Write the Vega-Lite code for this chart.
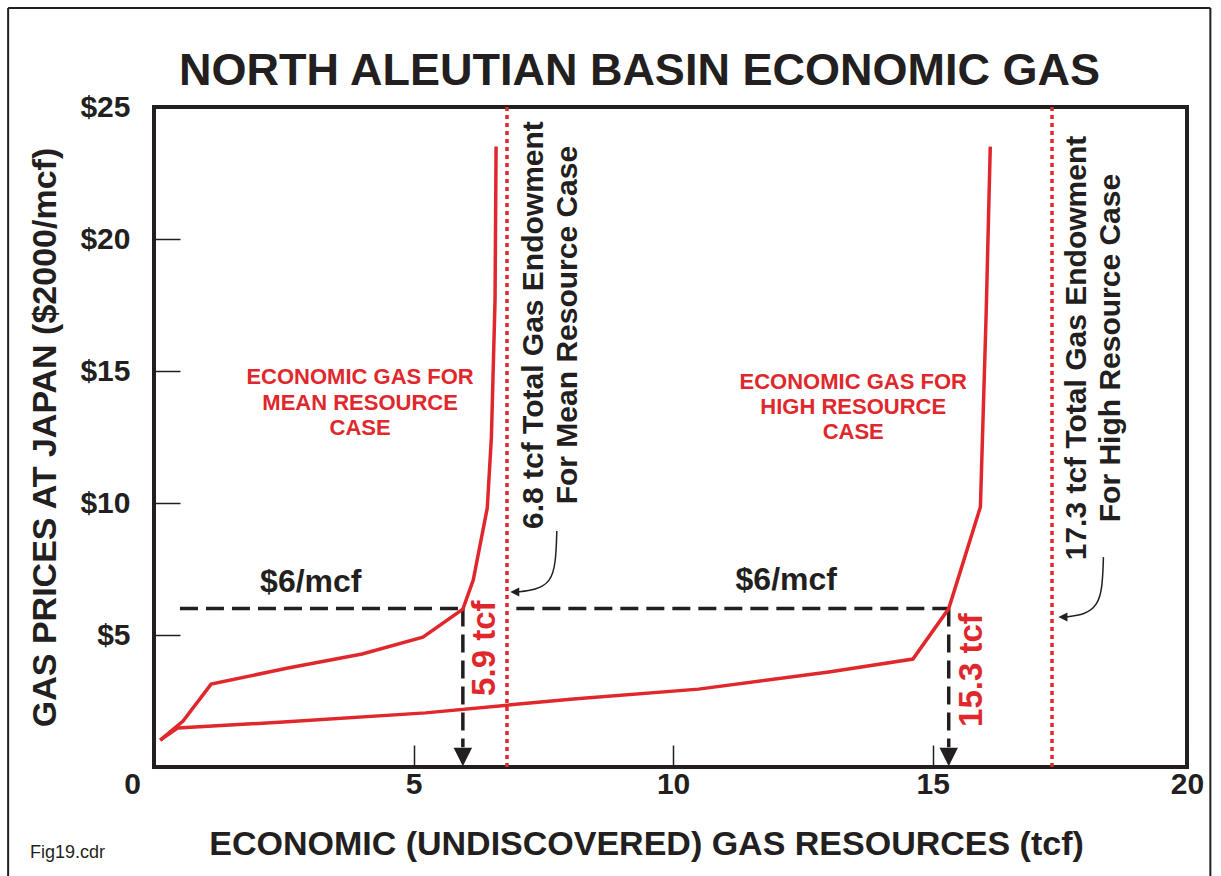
{
  "$schema": "https://vega.github.io/schema/vega-lite/v6.json",
  "width": 1033,
  "height": 660,
  "autosize": "none",
  "padding": {"left": 154, "top": 107, "right": 34, "bottom": 109},
  "background": "white",
  "title": {
    "text": "NORTH ALEUTIAN BASIN ECONOMIC GAS",
    "font": "Liberation Sans, Arial",
    "fontSize": 45,
    "fontWeight": "bold",
    "color": "#231f20",
    "anchor": "middle",
    "frame": "group",
    "baseline": "alphabetic",
    "offset": -123,
    "dx": -31
  },
  "config": {
    "view": {"stroke": "#231f20", "strokeWidth": 4},
    "axis": {
      "grid": false,
      "domain": false,
      "tickColor": "#231f20",
      "tickWidth": 1.5,
      "labelFont": "Liberation Sans, Arial",
      "labelFontWeight": "bold",
      "labelColor": "#231f20",
      "titleFont": "Liberation Sans, Arial",
      "titleFontWeight": "bold",
      "titleColor": "#231f20"
    }
  },
  "datasets": {
    "border": [
      {"x": -2.81, "y": -4.5, "x2": -2.81, "y2": 28.75},
      {"x": -2.81, "y": 28.75, "x2": 20.35, "y2": 28.75},
      {"x": 20.35, "y": -4.5, "x2": 20.35, "y2": 28.75}
    ],
    "curves": [
      {"case": "mean", "x": 0.12, "y": 1.02},
      {"case": "mean", "x": 0.56, "y": 1.74},
      {"case": "mean", "x": 1.10, "y": 3.14},
      {"case": "mean", "x": 2.58, "y": 3.75},
      {"case": "mean", "x": 4.01, "y": 4.28},
      {"case": "mean", "x": 5.18, "y": 4.92},
      {"case": "mean", "x": 5.95, "y": 5.98},
      {"case": "mean", "x": 6.15, "y": 7.08},
      {"case": "mean", "x": 6.42, "y": 9.81},
      {"case": "mean", "x": 6.50, "y": 12.5},
      {"case": "mean", "x": 6.57, "y": 17.7},
      {"case": "mean", "x": 6.59, "y": 23.5},
      {"case": "high", "x": 0.12, "y": 1.02},
      {"case": "high", "x": 0.46, "y": 1.48},
      {"case": "high", "x": 2.49, "y": 1.70},
      {"case": "high", "x": 5.23, "y": 2.05},
      {"case": "high", "x": 8.08, "y": 2.58},
      {"case": "high", "x": 10.49, "y": 2.95},
      {"case": "high", "x": 13.0, "y": 3.60},
      {"case": "high", "x": 14.62, "y": 4.09},
      {"case": "high", "x": 15.31, "y": 6.0},
      {"case": "high", "x": 15.92, "y": 9.85},
      {"case": "high", "x": 16.03, "y": 17.1},
      {"case": "high", "x": 16.11, "y": 23.5}
    ],
    "endowment": [
      {"x": 6.8, "y": 0, "y2": 25},
      {"x": 17.3, "y": 0, "y2": 25}
    ],
    "dashes": [
      {"x": 0.5, "y": 6, "x2": 5.95, "y2": 6},
      {"x": 6.98, "y": 6, "x2": 15.31, "y2": 6},
      {"x": 5.95, "y": 6, "x2": 5.95, "y2": 0.75},
      {"x": 15.31, "y": 6, "x2": 15.31, "y2": 0.75}
    ],
    "arrowheads": [
      {"x": 5.95, "y": 0},
      {"x": 15.31, "y": 0}
    ],
    "pointers": [
      {"arrow": "mean", "x": 7.76, "y": 8.94},
      {"arrow": "mean", "x": 7.74, "y": 7.7},
      {"arrow": "mean", "x": 7.64, "y": 7.02},
      {"arrow": "mean", "x": 7.36, "y": 6.7},
      {"arrow": "mean", "x": 6.98, "y": 6.63},
      {"arrow": "high", "x": 18.29, "y": 7.95},
      {"arrow": "high", "x": 18.27, "y": 6.75},
      {"arrow": "high", "x": 18.17, "y": 6.12},
      {"arrow": "high", "x": 17.94, "y": 5.77},
      {"arrow": "high", "x": 17.54, "y": 5.68}
    ],
    "pointerheads": [
      {"x": 6.95, "y": 6.63},
      {"x": 17.51, "y": 5.68}
    ],
    "caseLabels": [
      {"x": 3.97, "y": 14.77, "text": "ECONOMIC GAS FOR"},
      {"x": 3.97, "y": 13.8, "text": "MEAN RESOURCE"},
      {"x": 3.97, "y": 12.85, "text": "CASE"},
      {"x": 13.47, "y": 14.58, "text": "ECONOMIC GAS FOR"},
      {"x": 13.47, "y": 13.62, "text": "HIGH RESOURCE"},
      {"x": 13.47, "y": 12.68, "text": "CASE"}
    ],
    "priceLabels": [
      {"x": 3.02, "y": 7.0, "text": "$6/mcf"},
      {"x": 12.18, "y": 7.08, "text": "$6/mcf"}
    ],
    "tcfLabels": [
      {"x": 6.38, "y": 4.5, "text": "5.9 tcf"},
      {"x": 15.76, "y": 3.67, "text": "15.3 tcf"}
    ],
    "endowLabels": [
      {"x": 7.32, "y": 16.74, "text": "6.8 tcf Total Gas Endowment"},
      {"x": 7.98, "y": 16.74, "text": "For Mean Resource Case"},
      {"x": 17.78, "y": 15.87, "text": "17.3 tcf Total Gas Endowment"},
      {"x": 18.44, "y": 15.87, "text": "For High Resource Case"}
    ],
    "note": [
      {"x": -2.39, "y": -3.45, "text": "Fig19.cdr"}
    ]
  },
  "layer": [
    {
      "data": {"name": "endowment"},
      "mark": {"type": "rule", "color": "#e0282c", "strokeWidth": 3.5, "strokeDash": [4, 4]},
      "encoding": {
        "x": {
          "field": "x", "type": "quantitative",
          "scale": {"domain": [0, 19.9], "nice": false, "zero": false},
          "axis": {
            "values": [0, 5, 10, 15, 19.9],
            "labelExpr": "datum.value > 19 ? '20' : datum.label",
            "labelFlush": false,
            "tickSize": -22,
            "labelPadding": 24,
            "labelFontSize": 30,
            "labelOffset": {"condition": {"test": "datum.value == 0", "value": -22}, "value": 0},
            "title": "ECONOMIC (UNDISCOVERED) GAS RESOURCES (tcf)",
            "titleFontSize": 34,
            "titleX": 492,
            "titleY": 87,
            "titleBaseline": "alphabetic"
          }
        },
        "y": {
          "field": "y", "type": "quantitative",
          "scale": {"domain": [0, 25], "nice": false},
          "axis": {
            "values": [5, 10, 15, 20, 25],
            "labelExpr": "'$' + datum.label",
            "tickSize": -26,
            "labelPadding": 50,
            "labelFontSize": 30,
            "title": "GAS PRICES AT JAPAN ($2000/mcf)",
            "titleFontSize": 34,
            "titleX": -109,
            "titleBaseline": "middle"
          }
        },
        "y2": {"field": "y2"}
      }
    },
    {
      "data": {"name": "border"},
      "mark": {"type": "rule", "color": "#231f20", "strokeWidth": 2},
      "encoding": {
        "x": {"field": "x", "type": "quantitative"},
        "y": {"field": "y", "type": "quantitative"},
        "x2": {"field": "x2"},
        "y2": {"field": "y2"}
      }
    },
    {
      "data": {"name": "dashes"},
      "mark": {"type": "rule", "color": "#231f20", "strokeWidth": 3.5, "strokeDash": [18, 8]},
      "encoding": {
        "x": {"field": "x", "type": "quantitative"},
        "y": {"field": "y", "type": "quantitative"},
        "x2": {"field": "x2"},
        "y2": {"field": "y2"}
      }
    },
    {
      "data": {"name": "arrowheads"},
      "mark": {"type": "point", "shape": "M-1,-1L1,-1L0,1Z", "size": 340, "filled": true, "color": "#231f20", "opacity": 1, "yOffset": -10},
      "encoding": {
        "x": {"field": "x", "type": "quantitative"},
        "y": {"field": "y", "type": "quantitative"}
      }
    },
    {
      "data": {"name": "curves"},
      "mark": {"type": "line", "color": "#e0282c", "strokeWidth": 3.5, "strokeJoin": "miter"},
      "encoding": {
        "x": {"field": "x", "type": "quantitative"},
        "y": {"field": "y", "type": "quantitative"},
        "detail": {"field": "case"},
        "order": {"field": "y", "type": "quantitative"}
      }
    },
    {
      "data": {"name": "pointers"},
      "mark": {"type": "line", "color": "#231f20", "strokeWidth": 1.5, "interpolate": "basis"},
      "encoding": {
        "x": {"field": "x", "type": "quantitative"},
        "y": {"field": "y", "type": "quantitative"},
        "detail": {"field": "arrow"},
        "order": {"field": "y", "type": "quantitative", "sort": "descending"}
      }
    },
    {
      "data": {"name": "pointerheads"},
      "mark": {"type": "point", "shape": "M1,-1L-1,0L1,1Z", "size": 80, "filled": true, "color": "#231f20", "opacity": 1},
      "encoding": {
        "x": {"field": "x", "type": "quantitative"},
        "y": {"field": "y", "type": "quantitative"}
      }
    },
    {
      "data": {"name": "caseLabels"},
      "mark": {"type": "text", "color": "#e0282c", "font": "Liberation Sans, Arial", "fontWeight": "bold", "fontSize": 22, "align": "center", "baseline": "middle"},
      "encoding": {
        "x": {"field": "x", "type": "quantitative"},
        "y": {"field": "y", "type": "quantitative"},
        "text": {"field": "text"}
      }
    },
    {
      "data": {"name": "priceLabels"},
      "mark": {"type": "text", "color": "#231f20", "font": "Liberation Sans, Arial", "fontWeight": "bold", "fontSize": 32, "align": "center", "baseline": "middle"},
      "encoding": {
        "x": {"field": "x", "type": "quantitative"},
        "y": {"field": "y", "type": "quantitative"},
        "text": {"field": "text"}
      }
    },
    {
      "data": {"name": "tcfLabels"},
      "mark": {"type": "text", "color": "#e0282c", "font": "Liberation Sans, Arial", "fontWeight": "bold", "fontSize": 33, "align": "center", "baseline": "middle", "angle": 270},
      "encoding": {
        "x": {"field": "x", "type": "quantitative"},
        "y": {"field": "y", "type": "quantitative"},
        "text": {"field": "text"}
      }
    },
    {
      "data": {"name": "endowLabels"},
      "mark": {"type": "text", "color": "#231f20", "font": "Liberation Sans, Arial", "fontWeight": "bold", "fontSize": 30, "align": "center", "baseline": "middle", "angle": 270},
      "encoding": {
        "x": {"field": "x", "type": "quantitative"},
        "y": {"field": "y", "type": "quantitative"},
        "text": {"field": "text"}
      }
    },
    {
      "data": {"name": "note"},
      "mark": {"type": "text", "color": "#231f20", "font": "Liberation Sans, Arial", "fontSize": 18, "align": "left", "baseline": "alphabetic"},
      "encoding": {
        "x": {"field": "x", "type": "quantitative"},
        "y": {"field": "y", "type": "quantitative"},
        "text": {"field": "text"}
      }
    }
  ]
}
